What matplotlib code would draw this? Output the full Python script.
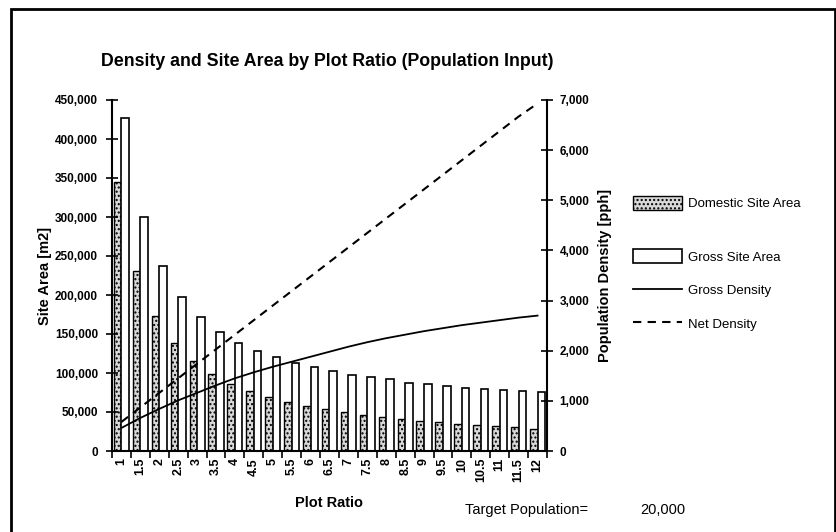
import numpy as np
import matplotlib.pyplot as plt
from matplotlib.lines import Line2D
from matplotlib.patches import Patch, Rectangle

plt.rcParams['font.family'] = ['Liberation Sans', 'DejaVu Sans']
plt.rcParams['hatch.color'] = '#777777'

plot_ratio = ['1', '1.5', '2', '2.5', '3', '3.5', '4', '4.5', '5', '5.5', '6', '6.5',
              '7', '7.5', '8', '8.5', '9', '9.5', '10', '10.5', '11', '11.5', '12']
domestic_area = [345000, 231000, 173000, 138000, 115000, 99000, 86500, 77000, 69000,
                 63000, 57800, 53500, 49500, 46500, 43500, 41000, 38500, 36700,
                 34700, 33200, 32300, 31100, 28700]
gross_area = [427000, 300000, 237000, 197000, 172000, 153000, 139000, 128000, 120000,
              112800, 107500, 102800, 97600, 95100, 92100, 87800, 86500, 83100,
              81400, 79600, 78000, 76700, 75400]
gross_density = [460, 660, 840, 1010, 1160, 1310, 1450, 1570, 1680, 1780, 1880, 1980,
                 2080, 2170, 2250, 2320, 2390, 2450, 2510, 2560, 2610, 2660, 2700]
net_density = [580, 870, 1160, 1450, 1740, 2030, 2320, 2610, 2900, 3190, 3480, 3770,
               4060, 4350, 4640, 4930, 5220, 5510, 5800, 6090, 6380, 6670, 6930]

x = np.arange(len(plot_ratio))

fig = plt.figure(figsize=(8.37, 5.32), dpi=100)
ax = fig.add_axes([112/837, 1 - 451/532, 435/837, 351/532])
ax2 = ax.twinx()

w = 0.4
ax.bar(x - w/2, domestic_area, w, facecolor='#d8d8d8', edgecolor='black',
       hatch='....', linewidth=1.0)
ax.bar(x + w/2, gross_area, w, facecolor='white', edgecolor='black', linewidth=1.2)
ax2.plot(x, gross_density, color='black', lw=1.3)
ax2.plot(x, net_density, color='black', lw=1.5, dashes=(4, 3))

ax.set_xlim(-0.5, len(x) - 0.5)
ax.set_ylim(0, 450000)
ax2.set_ylim(0, 7000)
ax.set_yticks(np.arange(0, 450001, 50000))
ax.set_yticklabels([f'{v:,}' for v in range(0, 450001, 50000)])
ax2.set_yticks(np.arange(0, 7001, 1000))
ax2.set_yticklabels([f'{v:,}' for v in range(0, 7001, 1000)])

ax.set_xticks(np.arange(-0.5, len(x), 1.0))
ax.set_xticklabels([])
ax.set_xticks(x, minor=True)
ax.set_xticklabels(plot_ratio, minor=True, rotation=90, fontsize=9, fontweight='bold')
ax.tick_params(axis='x', which='minor', length=0, pad=5)
ax.tick_params(axis='x', which='major', length=5, width=1.2, direction='out')

for a in (ax, ax2):
    for s in a.spines.values():
        s.set_visible(False)
ax.spines['left'].set_visible(True)
ax.spines['bottom'].set_visible(True)
ax2.spines['right'].set_visible(True)
for s in (ax.spines['left'], ax.spines['bottom'], ax2.spines['right']):
    s.set_linewidth(1.5)

ax.tick_params(axis='y', direction='inout', length=8, width=1.2, labelsize=8.5, pad=6)
ax2.tick_params(axis='y', direction='inout', length=8, width=1.2, labelsize=8.5, pad=5)
for lab in ax.get_yticklabels() + ax2.get_yticklabels():
    lab.set_fontweight('bold')

ax.set_ylabel('Site Area [m2]', fontsize=10.5, fontweight='bold', labelpad=2)
ax2.set_ylabel('Population Density [pph]', fontsize=10.5, fontweight='bold', labelpad=6)
ax.set_xlabel('Plot Ratio', fontsize=10.5, fontweight='bold', labelpad=10)

fig.text(327/837, 1 - 62/532, 'Density and Site Area by Plot Ratio (Population Input)',
         ha='center', va='center', fontsize=12.8, fontweight='bold')
fig.text(465/837, 1 - 510/532, 'Target Population=', ha='left', va='center', fontsize=10.5)
fig.text(640/837, 1 - 510/532, '20,000', ha='left', va='center', fontsize=10.5)

h_dom = Patch(facecolor='#d8d8d8', edgecolor='black', hatch='....')
h_gross = Patch(facecolor='white', edgecolor='black', linewidth=1.2)
h_gd = Line2D([], [], color='black', lw=1.3)
h_nd = Line2D([], [], color='black', lw=1.5, dashes=(4, 3))

leg_kw = dict(loc='center left', frameon=False, fontsize=9.5, handlelength=3.7,
              handleheight=1.3, handletextpad=0.5, borderaxespad=0, borderpad=0)
fig.legend([h_dom], ['Domestic Site Area'],
           bbox_to_anchor=(633/837, 1 - 203/532), **leg_kw)
fig.legend([h_gross, h_gd, h_nd], ['Gross Site Area', 'Gross Density', 'Net Density'],
           bbox_to_anchor=(633/837, 1 - 290/532), labelspacing=1.45, **leg_kw)

fig.add_artist(Rectangle((11/837, -0.05), (835 - 11)/837, 1.05 - 9/532,
                         transform=fig.transFigure, fill=False, edgecolor='black',
                         linewidth=2))

fig.savefig('out.png', dpi=100)
